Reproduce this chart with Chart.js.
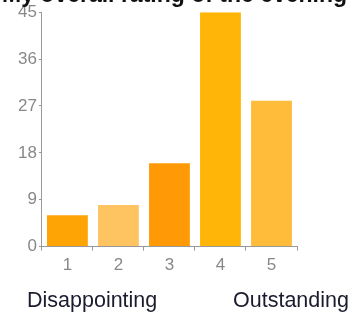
<!DOCTYPE html>
<html>
<head>
<meta charset="utf-8">
<script src="https://cdn.jsdelivr.net/npm/chart.js@4"></script>
<style>
  html, body { margin: 0; padding: 0; background: #fff; }
  #wrap { position: relative; width: 351px; height: 316px; overflow: hidden; }
  #title { position: absolute; left: 2px; top: -19px; font: bold 23px "Liberation Sans", Arial, sans-serif; color: #111; white-space: nowrap; }
  .end { position: absolute; top: 288px; font: 21.5px "Liberation Sans", Arial, sans-serif; color: #1b1b2f; }
</style>
</head>
<body>
<div id="wrap">
  <canvas id="chart" width="351" height="316"></canvas>
  <div id="title">My overall rating of the evening</div>
  <div class="end" style="left:27px">Disappointing</div>
  <div class="end" style="left:233px">Outstanding</div>
</div>
<script>
// rating buckets
const labels = ['1', '2', '3', '4', '5'];
const votes = [6, 8, 16, 45, 28];
const yTicks = [0, 9, 18, 27, 36, 45];
const barColors = ['#ffa405', '#ffc462', '#ff9a06', '#ffb508', '#ffbb3a'];

const ctx = document.getElementById('chart').getContext('2d');
const barChart = new Chart(ctx, {
  type: 'bar',
  data: {
    labels: labels,
    datasets: [{
      data: votes,
      backgroundColor: barColors,
      barPercentage: 0.8,
      categoryPercentage: 1
    }]
  },
  options: {
    responsive: false,
    animation: false,
    layout: { padding: { top: 9, right: 54, bottom: 35, left: 16 } },
    plugins: { legend: { display: false }, tooltip: { enabled: false } },
    scales: {
      x: {
        grid: { display: true, drawOnChartArea: false, tickLength: 4, color: '#999' },
        border: { color: '#999' },
        ticks: { color: '#888', font: { family: 'Liberation Sans', size: 17 }, padding: 5 }
      },
      y: {
        min: 0,
        max: 45,
        afterBuildTicks: (axis) => { axis.ticks = yTicks.map(v => ({ value: v })); },
        grid: { display: true, drawOnChartArea: false, tickLength: 3, color: '#999' },
        border: { color: '#999' },
        ticks: { color: '#888', font: { family: 'Liberation Sans', size: 17 }, padding: 2 }
      }
    }
  }
});
</script>
</body>
</html>
